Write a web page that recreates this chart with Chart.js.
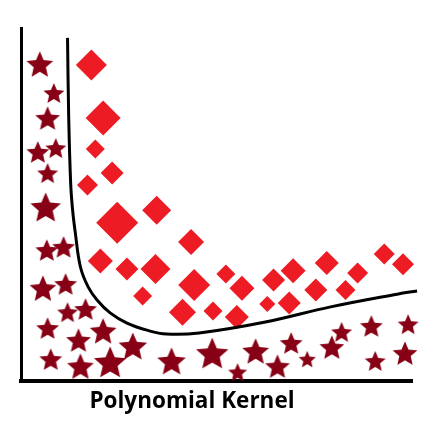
<!DOCTYPE html>
<html>
<head>
<meta charset="utf-8">
<script src="https://cdn.jsdelivr.net/npm/chart.js@4.4.1/dist/chart.umd.min.js"></script>
<style>
  html, body { margin: 0; padding: 0; background: #fff; }
  #chart { display: block; }
</style>
</head>
<body>
<canvas id="chart" width="433" height="431"></canvas>
<script>
// class A - stars
const starX = [0.48, 0.84, 0.68, 0.43, 0.89, 0.68, 0.63, 0.66, 1.09, 0.56, 1.14, 1.19, 1.65, 0.68, 1.47, 2.10, 2.86,
               0.76, 1.52, 2.28, 3.85, 4.89, 5.54, 6.00, 6.56, 6.91, 7.32, 7.95, 8.20, 8.96, 9.06, 9.90, 9.82];
const starY = [8.98, 8.16, 7.45, 6.49, 6.60, 5.89, 4.93, 3.71, 3.80, 2.63, 2.75, 1.95, 2.04, 1.50, 1.16, 1.42, 0.99,
               0.62, 0.42, 0.54, 0.57, 0.79, 0.25, 0.85, 0.42, 1.08, 0.62, 0.96, 1.39, 1.56, 0.57, 1.61, 0.79];
const starR = [14, 11, 13, 12, 11, 11, 16, 12, 12, 14, 12, 11, 12, 12, 13, 14, 15,
               12, 14, 17, 15, 17, 10, 14, 13, 12, 9, 13, 11, 12, 11, 11, 13];

// class B - diamonds
const diamondX = [1.80, 2.10, 1.90, 2.33, 1.70, 2.46, 3.47, 4.35, 2.03, 2.71, 3.44, 3.11, 4.43, 4.13,
                  4.91, 5.24, 5.65, 5.52, 6.46, 6.96, 6.30, 6.86, 7.82, 7.54, 8.30, 8.61, 9.29, 9.77];
const diamondY = [8.95, 7.45, 6.57, 5.89, 5.55, 4.48, 4.84, 3.94, 3.40, 3.17, 3.17, 2.41, 2.72, 1.95,
                  1.98, 3.03, 2.63, 1.81, 2.86, 3.12, 2.18, 2.21, 3.34, 2.58, 2.58, 3.06, 3.60, 3.31];
const diamondR = [15.5, 17.5, 9.5, 11.5, 10.5, 21, 14.5, 13, 12.5, 11.5, 15, 9.5, 16, 13.5,
                  9.5, 9.5, 12.5, 12, 11.5, 12.5, 8, 11.5, 12, 11.5, 10, 10.5, 10.5, 11];

// separating curve
const curveX = [1.19, 1.22, 1.27, 1.32, 1.39, 1.52, 1.72, 1.95, 2.28, 2.71, 3.22, 3.72, 4.56, 6.25, 7.92, 9.62, 10.13];
const curveY = [9.72, 7.48, 5.61, 4.84, 4.19, 3.23, 2.66, 2.29, 1.93, 1.64, 1.44, 1.33, 1.36, 1.67, 2.10, 2.46, 2.55];

const chartTitle = 'Polynomial Kernel';

const toPoints = (xs, ys, rs) => xs.map((x, i) => rs ? {x: x, y: ys[i], r: rs[i]} : {x: x, y: ys[i]});

// filled 5 point star, cached per size
const starCache = {};
function starImage(r, color) {
    const key = r + color;
    if (starCache[key]) return starCache[key];
    const c = document.createElement('canvas');
    const s = Math.ceil(2 * r + 4);
    c.width = s; c.height = s;
    const g = c.getContext('2d');
    const cx = s / 2, cy = s / 2 + 0.095 * r;
    const inner = r * 0.46;
    g.beginPath();
    for (let i = 0; i < 10; i++) {
        const rad = i % 2 === 0 ? r : inner;
        const a = -Math.PI / 2 + i * Math.PI / 5;
        const px = cx + rad * Math.cos(a), py = cy + rad * Math.sin(a);
        if (i === 0) g.moveTo(px, py); else g.lineTo(px, py);
    }
    g.closePath();
    g.fillStyle = color;
    g.fill();
    starCache[key] = c;
    return c;
}

const bottomTitle = {
    id: 'bottomTitle',
    afterDraw(chart) {
        const ctx = chart.ctx;
        ctx.save();
        ctx.font = 'bold 22.5px "Open Sans"';
        ctx.fillStyle = '#000';
        ctx.textAlign = 'center';
        ctx.textBaseline = 'alphabetic';
        ctx.fillText(chartTitle, 192, 408);
        ctx.restore();
    }
};

new Chart(document.getElementById('chart'), {
    type: 'bubble',
    data: {
        datasets: [
            {
                type: 'line',
                label: 'boundary',
                data: toPoints(curveX, curveY),
                borderColor: '#000',
                borderWidth: 3,
                pointRadius: 0,
                tension: 0.4,
                fill: false,
                clip: false
            },
            {
                label: 'A',
                data: toPoints(starX, starY, starR),
                backgroundColor: '#880015',
                borderWidth: 0,
                pointStyle: ctx => starImage(ctx.raw ? ctx.raw.r : 10, '#880015'),
                clip: false
            },
            {
                label: 'B',
                data: toPoints(diamondX, diamondY, diamondR),
                backgroundColor: '#ED1C24',
                borderWidth: 0,
                pointStyle: 'rectRot',
                clip: false
            }
        ]
    },
    options: {
        responsive: false,
        animation: false,
        devicePixelRatio: 1,
        layout: { padding: { left: 20, top: 28, right: 18, bottom: 50 } },
        plugins: {
            legend: { display: false },
            tooltip: { enabled: false },
            title: { display: false }
        },
        scales: {
            x: {
                type: 'linear', min: 0, max: 10,
                ticks: { display: false },
                grid: { display: false, drawTicks: false },
                border: { display: true, color: '#000', width: 4 }
            },
            y: {
                type: 'linear', min: 0, max: 10,
                ticks: { display: false },
                grid: { display: false, drawTicks: false },
                border: { display: true, color: '#000', width: 3 }
            }
        }
    },
    plugins: [bottomTitle]
});
</script>
</body>
</html>
